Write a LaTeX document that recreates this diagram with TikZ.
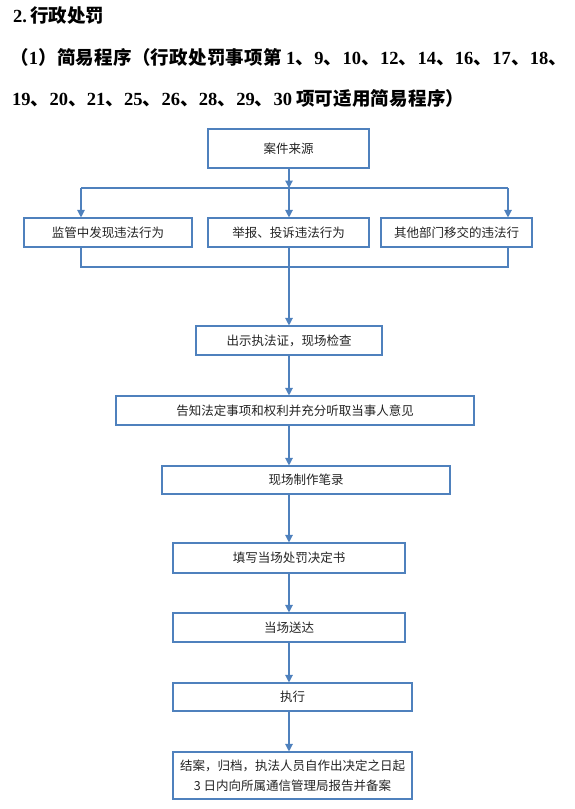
\documentclass[tikz,border=0pt]{standalone}
\usepackage{fontspec}
\setmainfont{Liberation Serif}
\newfontfamily\cj{Noto Sans CJK SC}
\usetikzlibrary{arrows.meta}
\definecolor{lineblue}{RGB}{79,129,189}
\definecolor{txt}{RGB}{35,35,35}
\newcommand\C[1]{{\cj #1}}
\newcommand\g{\hskip 0pt plus 1fil}
\begin{document}
\begin{tikzpicture}[x=1pt,y=-1pt,
  box/.style={draw=lineblue, line width=1.1pt, inner sep=0pt, font=\cj\fontsize{12.5}{20}\selectfont, text=txt, align=center},
  conn/.style={draw=lineblue, line width=1.2pt},
  arr/.style={conn, -{Triangle[length=7.5pt,width=7.5pt]}},
  title/.style={anchor=west, inner sep=0pt, font=\bfseries\fontsize{18.5}{22}\selectfont, text=black}]
\useasboundingbox (0,0) rectangle (575,809);

% titles
\node[title] (t1) at (13,15.5) {2.\,\C{行政处罚}};
\node[title] (t2) at (10,57) {\hbox to 557pt{\C{（}\g 1\g\C{）}\g\C{简}\g\C{易}\g\C{程}\g\C{序}\g\C{（}\g\C{行}\g\C{政}\g\C{处}\g\C{罚}\g\C{事}\g\C{项}\g\C{第}\g\hskip4pt 1\g\C{、}\g 9\g\C{、}\g 10\g\C{、}\g 12\g\C{、}\g 14\g\C{、}\g 16\g\C{、}\g 17\g\C{、}\g 18\g\C{、}}};
\node[title] (t3) at (12,98) {\hbox to 452pt{19\g\C{、}\g 20\g\C{、}\g 21\g\C{、}\g 25\g\C{、}\g 26\g\C{、}\g 28\g\C{、}\g 29\g\C{、}\g 30\hskip4pt\g\C{项}\g\C{可}\g\C{适}\g\C{用}\g\C{简}\g\C{易}\g\C{程}\g\C{序}\g\C{）}}};

% boxes
\node[box, minimum width=161pt, minimum height=39pt] (src) at (288.5,148.5) {案件来源};
\node[box, minimum width=168pt, minimum height=29pt] (b1) at (108,232.5) {监管中发现违法行为};
\node[box, minimum width=161pt, minimum height=29pt] (b2) at (288.5,232.5) {举报、投诉违法行为};
\node[box, minimum width=151pt, minimum height=29pt] (b3) at (456.5,232.5) {其他部门移交的违法行};
\node[box, minimum width=186pt, minimum height=29pt] (b4) at (289,340.5) {出示执法证，现场检查};
\node[box, minimum width=358pt, minimum height=29pt] (b5) at (295,410.5) {告知法定事项和权利并充分听取当事人意见};
\node[box, minimum width=288pt, minimum height=28pt] (b6) at (306,480) {现场制作笔录};
\node[box, minimum width=232pt, minimum height=30pt] (b7) at (289,558) {填写当场处罚决定书};
\node[box, minimum width=232pt, minimum height=29pt] (b8) at (289,627.5) {当场送达};
\node[box, minimum width=239pt, minimum height=28pt] (b9) at (292.5,697) {执行};
\node[box, minimum width=239pt, minimum height=47pt] (b10) at (292.5,775.5) {结案，归档，执法人员自作出决定之日起\\3 日内向所属通信管理局报告并备案};

% helper coordinates
\coordinate (spine) at (289,0);
\coordinate (br) at (289,188);
\coordinate (c1) at (81,188);
\coordinate (c3) at (508,188);
\coordinate (m1) at (81,267);
\coordinate (m3) at (508,267);

% branching
\draw[arr] (src.south -| spine) -- (br);
\draw[conn] (c1) -- (c3);
\draw[arr] (c1) -- (c1 |- b1.north);
\draw[arr] (br) -- (b2.north -| spine);
\draw[arr] (c3) -- (c3 |- b3.north);

% merging
\draw[conn] (b1.south -| m1) -- (m1) -- (m3) -- (b3.south -| m3);
\draw[conn] (b2.south -| spine) -- (m1 -| spine);
\draw[arr] (m1 -| spine) -- (b4.north -| spine);

% main chain
\draw[arr] (b4.south -| spine) -- (b5.north -| spine);
\draw[arr] (b5.south -| spine) -- (b6.north -| spine);
\draw[arr] (b6.south -| spine) -- (b7.north -| spine);
\draw[arr] (b7.south -| spine) -- (b8.north -| spine);
\draw[arr] (b8.south -| spine) -- (b9.north -| spine);
\draw[arr] (b9.south -| spine) -- (b10.north -| spine);
\end{tikzpicture}
\end{document}
